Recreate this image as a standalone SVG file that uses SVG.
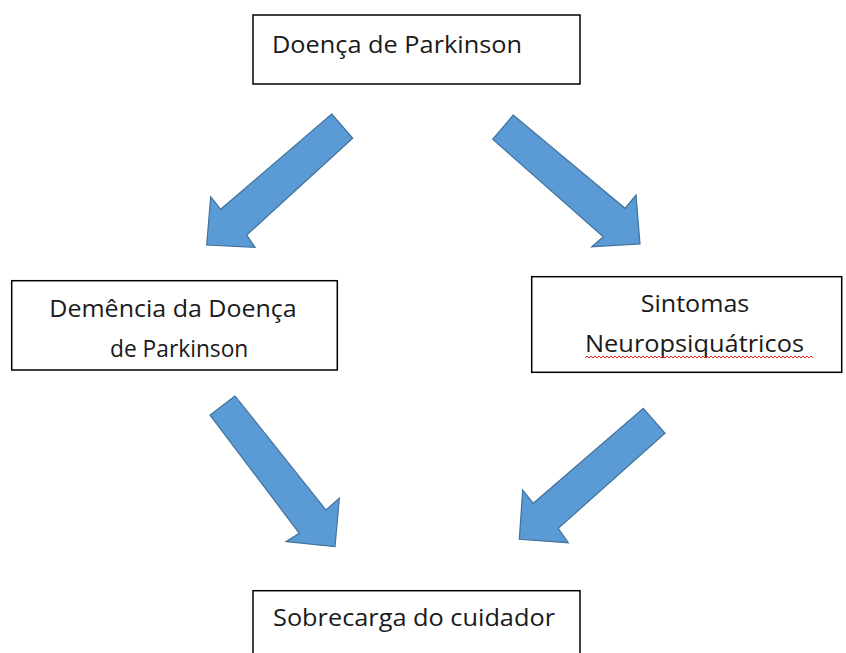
<svg xmlns="http://www.w3.org/2000/svg" width="846" height="653" viewBox="0 0 846 653">
<style>
.box{fill:#fff;stroke:#000;stroke-width:1.5}
.t{font-family:"Open Sans","Noto Sans","Liberation Sans",sans-serif;font-size:24px;fill:#1a1a1a}
.arr{fill:#5B9BD5;stroke:#41719C;stroke-width:1.2;stroke-linejoin:miter}
</style>
<rect width="846" height="653" fill="#fff"/>
<g id="connectors">
<polygon class="arr" points="331.7,114 352.7,138.3 246.7,235 255,247.3 206.7,245 210.7,196.7 220.7,209.3"/>
<polygon class="arr" points="513.3,115 492.7,139.3 603.3,236.7 591.7,246.7 640,244 636,195 625,208.3"/>
<polygon class="arr" points="235,396 210,415 299.3,533.3 286,541.7 335,546.7 339.3,498.3 326,510"/>
<polygon class="arr" points="643.3,408.3 665,433.3 558.3,528.3 568.3,542.7 519.3,539.3 522.7,490 533.3,503.3"/>
</g>
<g id="node-parkinson">
<rect class="box" x="253" y="15" width="327" height="69"/>
<text class="t" x="272" y="53" textLength="250" lengthAdjust="spacingAndGlyphs">Doença de Parkinson</text>
</g>
<g id="node-demencia">
<rect class="box" x="11.7" y="280.7" width="325.6" height="89.3"/>
<text class="t" x="49.3" y="316.7" textLength="247.4" lengthAdjust="spacingAndGlyphs">Demência da Doença</text>
<text class="t" x="110" y="357.3" textLength="138.3" lengthAdjust="spacingAndGlyphs">de Parkinson</text>
</g>
<g id="node-sintomas">
<rect class="box" x="531.7" y="276.7" width="310" height="95.6"/>
<text class="t" x="640.7" y="311.7" textLength="108.6" lengthAdjust="spacingAndGlyphs">Sintomas</text>
<text class="t" x="585" y="352.3" textLength="219" lengthAdjust="spacingAndGlyphs">Neuropsiquátricos</text>
<path d="M585,358 l2,-2 l2,2 l2,-2 l2,2 l2,-2 l2,2 l2,-2 l2,2 l2,-2 l2,2 l2,-2 l2,2 l2,-2 l2,2 l2,-2 l2,2 l2,-2 l2,2 l2,-2 l2,2 l2,-2 l2,2 l2,-2 l2,2 l2,-2 l2,2 l2,-2 l2,2 l2,-2 l2,2 l2,-2 l2,2 l2,-2 l2,2 l2,-2 l2,2 l2,-2 l2,2 l2,-2 l2,2 l2,-2 l2,2 l2,-2 l2,2 l2,-2 l2,2 l2,-2 l2,2 l2,-2 l2,2 l2,-2 l2,2 l2,-2 l2,2 l2,-2 l2,2 l2,-2 l2,2 l2,-2 l2,2 l2,-2 l2,2 l2,-2 l2,2 l2,-2 l2,2 l2,-2 l2,2 l2,-2 l2,2 l2,-2 l2,2 l2,-2 l2,2 l2,-2 l2,2 l2,-2 l2,2 l2,-2 l2,2 l2,-2 l2,2 l2,-2 l2,2 l2,-2 l2,2 l2,-2 l2,2 l2,-2 l2,2 l2,-2 l2,2 l2,-2 l2,2 l2,-2 l2,2 l2,-2 l2,2 l2,-2 l2,2 l2,-2 l2,2 l2,-2 l2,2 l2,-2 l2,2 l2,-2 l2,2 l2,-2 l2,2 l2,-2 l2,2 l2,-2 l2,2" fill="none" stroke="#e02020" stroke-width="1"/>
</g>
<g id="node-sobrecarga">
<rect class="box" x="253" y="590.7" width="327" height="80"/>
<text class="t" x="273" y="626" textLength="282" lengthAdjust="spacingAndGlyphs">Sobrecarga do cuidador</text>
</g>
</svg>
